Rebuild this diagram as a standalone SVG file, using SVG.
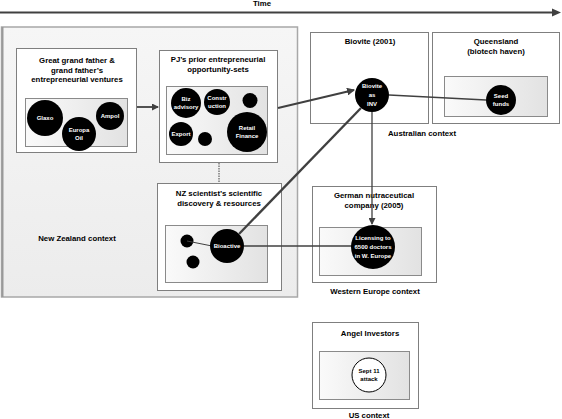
<svg xmlns="http://www.w3.org/2000/svg" width="562" height="419" viewBox="0 0 562 419">
<defs>
<linearGradient id="ctx" x1="0" y1="0" x2="0" y2="1"><stop offset="0" stop-color="#f6f6f6"/><stop offset="1" stop-color="#ececec"/></linearGradient>
<linearGradient id="inner" x1="0" y1="0" x2="1" y2="0"><stop offset="0" stop-color="#fafafa"/><stop offset="1" stop-color="#e2e2e2"/></linearGradient>
<marker id="ah" markerWidth="8" markerHeight="8" refX="7" refY="4" orient="auto" markerUnits="userSpaceOnUse"><path d="M0,0 L8,4 L0,8 z" fill="#404040"/></marker>
<marker id="ahs" markerWidth="7" markerHeight="7" refX="6" refY="3.5" orient="auto" markerUnits="userSpaceOnUse"><path d="M0,0 L7,3.5 L0,7 z" fill="#404040"/></marker>
</defs>
<style>
text{font-family:"Liberation Sans",Arial,sans-serif;font-weight:bold;text-anchor:middle;}
.t{font-size:7.8px;fill:#000;}
.c{font-size:6px;fill:#fff;}
.ctx{fill:url(#ctx);stroke:#a8a8a8;stroke-width:1.5;}
.box{fill:#fff;stroke:#7f7f7f;stroke-width:1;}
.in{fill:url(#inner);stroke:#8a8a8a;stroke-width:1;}
.dot{fill:#000;}
.ln{stroke:#404040;fill:none;}
</style>

<g id="time">
<line x1="0" y1="12.5" x2="553" y2="12.5" stroke="#404040" stroke-width="2"/>
<path d="M552,8.5 L561,12.5 L552,16.5 z" fill="#404040"/>
<text class="t" x="262" y="6">Time</text>
</g>

<g id="nz-context">
<rect class="ctx" x="1.5" y="27" width="296" height="270"/>
<line x1="2.5" y1="27" x2="2.5" y2="297" stroke="#999" stroke-width="2"/>
<text class="t" x="77" y="241">New Zealand context</text>
</g>

<g id="ancestors">
<rect class="box" x="16.5" y="48.5" width="120" height="104"/>
<text class="t" x="77" y="63">Great grand father &amp;</text>
<text class="t" x="77" y="72.5">grand father’s</text>
<text class="t" x="77" y="82">entrepreneurial ventures</text>
<rect class="in" x="25.5" y="98.5" width="102" height="48"/>
<circle class="dot" cx="45" cy="118" r="18"/>
<circle class="dot" cx="79" cy="134" r="17"/>
<circle class="dot" cx="110" cy="116" r="14"/>
<text class="c" x="45" y="120">Glaxo</text>
<text class="c" x="79" y="132">Europa</text>
<text class="c" x="79" y="140">Oil</text>
<text class="c" x="110" y="118">Ampol</text>
</g>

<g id="pj">
<rect class="box" x="159.5" y="50.5" width="118" height="112"/>
<text class="t" x="218" y="62">PJ’s prior entrepreneurial</text>
<text class="t" x="218" y="71.5">opportunity-sets</text>
<rect class="in" x="166.5" y="86.5" width="101" height="68"/>
<circle class="dot" cx="186" cy="103" r="15"/>
<circle class="dot" cx="217" cy="102" r="13"/>
<circle class="dot" cx="250" cy="100.5" r="7.5"/>
<circle class="dot" cx="181" cy="134" r="12"/>
<circle class="dot" cx="205" cy="139" r="7"/>
<circle class="dot" cx="247" cy="132" r="20"/>
<text class="c" x="186" y="101">Biz</text>
<text class="c" x="186" y="109">advisory</text>
<text class="c" x="217" y="100">Constr</text>
<text class="c" x="217" y="108">uction</text>
<text class="c" x="181" y="136">Export</text>
<text class="c" x="247" y="130">Retail</text>
<text class="c" x="247" y="138">Finance</text>
</g>

<g id="nz-scientist">
<rect class="box" x="157.5" y="183.5" width="124" height="107"/>
<text class="t" x="219" y="196">NZ scientist’s scientific</text>
<text class="t" x="219" y="205.5">discovery &amp; resources</text>
<rect class="in" x="165.5" y="225.5" width="102" height="57"/>
<circle class="dot" cx="187" cy="241" r="6.5"/>
<circle class="dot" cx="193" cy="262" r="6.5"/>
<line x1="187" y1="241" x2="212" y2="246" stroke="#404040" stroke-width="1"/>
<circle class="dot" cx="227" cy="246" r="17"/>
<text class="c" x="227" y="248">Bioactive</text>
</g>

<g id="biovite">
<rect class="box" x="310.5" y="32.5" width="118" height="91"/>
<text class="t" x="370" y="44">Biovite (2001)</text>
</g>

<g id="queensland">
<rect class="box" x="432.5" y="32.5" width="127" height="91"/>
<text class="t" x="496" y="44">Queensland</text>
<text class="t" x="496" y="54">(biotech haven)</text>
<rect class="in" x="444.5" y="76.5" width="103" height="40"/>
</g>
<text class="t" x="422" y="136">Australian context</text>

<g id="german">
<rect class="box" x="312.5" y="186.5" width="124" height="96"/>
<text class="t" x="374" y="198">German nutraceutical</text>
<text class="t" x="374" y="208">company (2005)</text>
<rect class="in" x="319.5" y="227.5" width="102" height="48"/>
<text class="t" x="375" y="294">Western Europe context</text>
</g>

<g id="angel">
<rect class="box" x="312.5" y="322.5" width="106" height="86"/>
<text class="t" x="370" y="336">Angel Investors</text>
<rect class="in" x="319.5" y="351.5" width="90" height="48"/>
<circle cx="369" cy="375" r="17" fill="#fff" stroke="#000" stroke-width="1"/>
<text class="t" x="369" y="373" style="font-size:6px">Sept 11</text>
<text class="t" x="369" y="381" style="font-size:6px">attack</text>
<text class="t" x="369" y="418">US context</text>
</g>

<g id="connectors">
<line class="ln" x1="137" y1="107" x2="158" y2="107" stroke-width="1.8" marker-end="url(#ahs)"/>
<line class="ln" x1="219" y1="163" x2="219" y2="183" stroke-width="1" stroke-dasharray="1.5,1"/>
<line class="ln" x1="278" y1="108" x2="354" y2="90" stroke-width="2" marker-end="url(#ah)"/>
<line class="ln" x1="389" y1="95" x2="486" y2="100" stroke-width="1.3"/>
<line class="ln" x1="239" y1="234" x2="361" y2="108" stroke-width="2.3"/>
<line class="ln" x1="372" y1="112" x2="372" y2="224" stroke-width="1.3" marker-end="url(#ahs)"/>
<line class="ln" x1="244" y1="246" x2="352" y2="246" stroke-width="1.3"/>
</g>

<g id="nodes-top">
<circle class="dot" cx="372" cy="95" r="17"/>
<text class="c" x="372" y="88">Biovite</text>
<text class="c" x="372" y="97">as</text>
<text class="c" x="372" y="106">INV</text>
<circle class="dot" cx="501" cy="100" r="15"/>
<text class="c" x="501" y="98">Seed</text>
<text class="c" x="501" y="106">funds</text>
<circle class="dot" cx="373" cy="247" r="22"/>
<text class="c" x="373" y="240">Licensing to</text>
<text class="c" x="373" y="249">6500 doctors</text>
<text class="c" x="373" y="258">in W. Europe</text>
</g>
</svg>
